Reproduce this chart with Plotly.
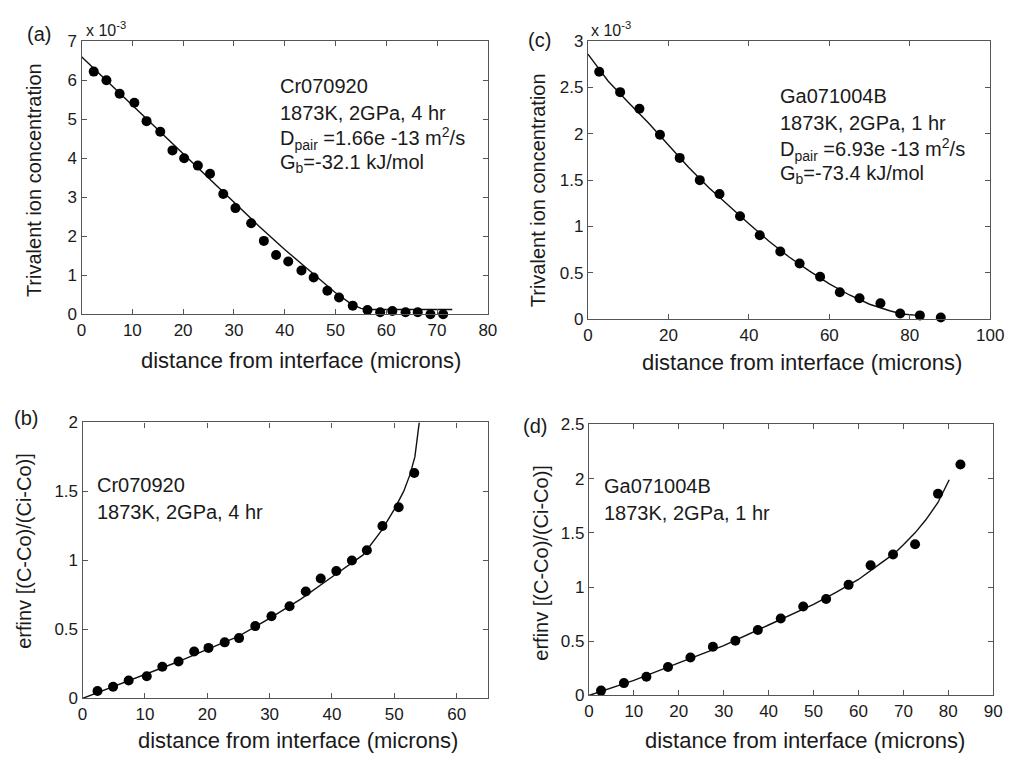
import plotly.graph_objects as go

W, H = 1020, 763

# ---------------- data ----------------
# (a) Cr070920 concentration (x 1e-3)
a_x = [2.4, 4.9, 7.5, 10.4, 12.8, 15.5, 17.9, 20.2, 22.9, 25.3, 27.9, 30.3, 33.4, 35.9,
       38.3, 40.7, 43.3, 45.7, 48.4, 50.7, 53.4, 56.3, 58.8, 61.2, 63.8, 66.2, 68.7, 71.2]
a_y = [6.22, 6.0, 5.65, 5.42, 4.95, 4.68, 4.2, 4.0, 3.81, 3.6, 3.08, 2.72, 2.33, 1.88,
       1.52, 1.35, 1.12, 0.94, 0.6, 0.43, 0.22, 0.11, 0.05, 0.08, 0.05, 0.05, 0.0, 0.0]
a_fit_x = [0, 5, 10, 15, 20, 25, 30, 35, 40, 45, 50, 53, 55, 57, 60, 73]
a_fit_y = [6.6, 5.98, 5.35, 4.72, 4.1, 3.48, 2.87, 2.25, 1.66, 1.1, 0.55, 0.27, 0.15, 0.12, 0.12, 0.12]

# (c) Ga071004B concentration (x 1e-3)
c_x = [2.8, 8.0, 12.8, 17.9, 22.8, 27.8, 32.7, 37.8, 42.7, 47.8, 52.6, 57.7, 62.6, 67.5,
       72.7, 77.6, 82.5, 87.7]
c_y = [2.67, 2.45, 2.27, 1.99, 1.74, 1.50, 1.35, 1.11, 0.905, 0.73, 0.60, 0.456, 0.29, 0.225,
       0.17, 0.06, 0.04, 0.018]
c_fit_x = [0, 5, 10, 15, 20, 25, 30, 35, 40, 45, 50, 55, 60, 65, 70, 75, 78, 82]
c_fit_y = [2.86, 2.57, 2.34, 2.12, 1.88, 1.64, 1.42, 1.22, 1.03, 0.84, 0.67, 0.52, 0.38, 0.26,
           0.16, 0.09, 0.055, 0.04]

# (b) Cr070920 erfinv
b_x = [2.4, 4.9, 7.4, 10.3, 12.8, 15.4, 17.9, 20.2, 22.8, 25.1, 27.7, 30.3, 33.2, 35.8,
       38.2, 40.7, 43.2, 45.6, 48.1, 50.7, 53.2]
b_y = [0.054, 0.085, 0.13, 0.16, 0.23, 0.267, 0.34, 0.366, 0.406, 0.437, 0.524, 0.595, 0.668,
       0.775, 0.869, 0.923, 1.0, 1.074, 1.25, 1.386, 1.634]
b_fit_x = [0, 5, 10, 15, 20, 25, 30, 35, 40, 45, 48, 50, 51.5, 52.5, 53.3, 54.0]
b_fit_y = [0, 0.085, 0.17, 0.26, 0.355, 0.45, 0.58, 0.72, 0.88, 1.04, 1.22, 1.37, 1.5, 1.62, 1.75, 2.0]

# (d) Ga071004B erfinv
d_x = [2.7, 7.8, 12.8, 17.6, 22.6, 27.6, 32.6, 37.6, 42.7, 47.7, 52.8, 57.8, 62.7, 67.7,
       72.6, 77.7, 82.7]
d_y = [0.045, 0.114, 0.173, 0.263, 0.35, 0.45, 0.505, 0.603, 0.71, 0.82, 0.89, 1.02, 1.2, 1.30,
       1.395, 1.86, 2.13]
d_fit_x = [0, 10, 20, 30, 40, 50, 55, 60, 65, 68, 70, 72.6, 75, 77.7, 80.2]
d_fit_y = [0, 0.14, 0.3, 0.46, 0.65, 0.84, 0.95, 1.07, 1.22, 1.31, 1.39, 1.5, 1.62, 1.78, 1.99]

FONT = "Liberation Sans, Arial, sans-serif"
TXT = "#1a1a1a"

fig = go.Figure()

def add_panel(xs, ys, fx, fy, n):
    xa = "x" if n == 1 else f"x{n}"
    ya = "y" if n == 1 else f"y{n}"
    fig.add_trace(go.Scatter(x=fx, y=fy, mode="lines", line=dict(color="#111", width=1.4),
                             xaxis=xa, yaxis=ya, showlegend=False, hoverinfo="skip"))
    fig.add_trace(go.Scatter(x=xs, y=ys, mode="markers", marker=dict(color="#000", size=10),
                             xaxis=xa, yaxis=ya, showlegend=False, cliponaxis=False))

add_panel(a_x, a_y, a_fit_x, a_fit_y, 1)
add_panel(c_x, c_y, c_fit_x, c_fit_y, 2)
add_panel(b_x, b_y, b_fit_x, b_fit_y, 3)
add_panel(d_x, d_y, d_fit_x, d_fit_y, 4)

def ax(domain, rng, dtick, anchor):
    return dict(domain=domain, range=rng, dtick=dtick, tick0=0, anchor=anchor,
                showline=True, linecolor="#555", linewidth=1.2, mirror="ticks",
                ticks="inside", ticklen=5, tickwidth=1, tickcolor="#555",
                showgrid=False, zeroline=False,
                tickfont=dict(family=FONT, size=17, color=TXT))

def xd(l, r):
    return [l / W, r / W]

def yd(b, t):
    return [1 - b / H, 1 - t / H]

fig.update_layout(
    width=W, height=H, margin=dict(l=0, r=0, t=0, b=0),
    paper_bgcolor="white", plot_bgcolor="white",
    font=dict(family=FONT, color=TXT),
    xaxis=ax(xd(78, 492), [0, 80], 10, "y"),
    yaxis=ax(yd(313, 33), [0, 7], 1, "x"),
    xaxis2=ax(xd(594, 1004), [0, 100], 20, "y2"),
    yaxis2=ax(yd(318, 33), [0, 3], 0.5, "x2"),
    xaxis3=ax(xd(79, 492), [0, 65], 10, "y3"),
    yaxis3=ax(yd(707, 424), [0, 2], 0.5, "x3"),
    xaxis4=ax(xd(595, 1007), [0, 90], 10, "y4"),
    yaxis4=ax(yd(704, 426), [0, 2.5], 0.5, "x4"),
)

anns = []

def note(px, py, text, size=20, xanchor="left", angle=0):
    anns.append(dict(x=px / W, y=1 - py / H, xref="paper", yref="paper", text=text,
                     showarrow=False, xanchor=xanchor, yanchor="middle", textangle=angle,
                     font=dict(family=FONT, size=size, color=TXT)))

# panel labels
note(35, 26, "(a)", 20, "center")
note(545, 32, "(c)", 20, "center")
note(21, 419, "(b)", 20, "center")
note(540, 428, "(d)", 20, "center")

# exponent labels
note(80, 20, "x 10<sup>-3</sup>", 16)
note(595, 21, "x 10<sup>-3</sup>", 16)

# axis titles
XT = "distance from interface (microns)"
note(302, 360, XT, 22, "center")
note(812, 363, XT, 22, "center")
note(299, 750, XT, 22, "center")
note(815, 750, XT, 22, "center")
note(29, 175, "Trivalent ion concentration", 20, "center", -90)
note(543, 186, "Trivalent ion concentration", 20, "center", -90)
note(20, 556, "erfinv [(C-Co)/(Ci-Co)]", 20, "center", -90)
note(546, 568, "erfinv [(C-Co)/(Ci-Co)]", 20, "center", -90)

# in-plot text
note(278, 79, "Cr070920")
note(278, 107, "1873K, 2GPa, 4 hr")
note(278, 133, "D<sub>pair</sub> =1.66e -13 m<sup>2</sup>/s")
note(278, 158, "G<sub>b</sub>=-32.1 kJ/mol")

note(788, 89, "Ga071004B")
note(788, 117, "1873K, 2GPa, 1 hr")
note(788, 144, "D<sub>pair</sub> =6.93e -13 m<sup>2</sup>/s")
note(788, 170, "G<sub>b</sub>=-73.4 kJ/mol")

note(92, 488, "Cr070920")
note(92, 516, "1873K, 2GPa, 4 hr")

note(608, 489, "Ga071004B")
note(608, 517, "1873K, 2GPa, 1 hr")

fig.update_layout(annotations=anns)

fig.write_html("out.html")
